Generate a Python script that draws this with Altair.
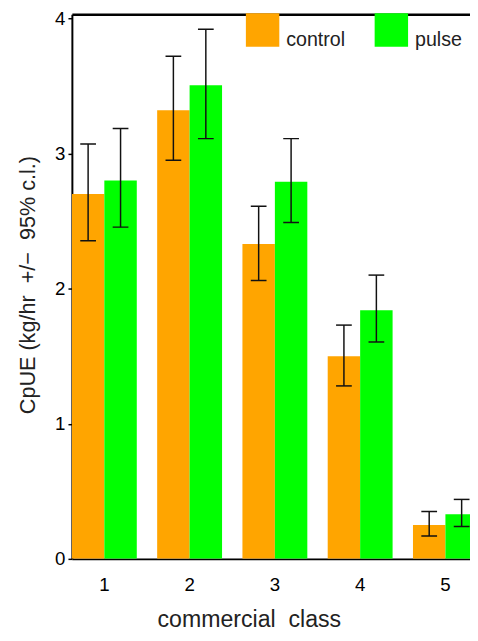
import altair as alt
import pandas as pd

classes = ["1", "2", "3", "4", "5"]
groups = ["control", "pulse"]
control_mean = [2.70, 3.32, 2.33, 1.50, 0.25]
control_lo = [2.355, 2.95, 2.06, 1.28, 0.17]
control_hi = [3.07, 3.72, 2.61, 1.73, 0.35]
pulse_mean = [2.80, 3.505, 2.79, 1.84, 0.33]
pulse_lo = [2.455, 3.11, 2.49, 1.605, 0.24]
pulse_hi = [3.185, 3.92, 3.11, 2.10, 0.44]
colors = ["#FFA500", "#00FF00"]

rows = []
for i, c in enumerate(classes):
    rows.append({"cls": c, "group": "control", "mean": control_mean[i], "lo": control_lo[i], "hi": control_hi[i]})
    rows.append({"cls": c, "group": "pulse", "mean": pulse_mean[i], "lo": pulse_lo[i], "hi": pulse_hi[i]})
df = pd.DataFrame(rows)

FONT = "Liberation Sans"
YTITLE = "CpUE (kg/hr\u00a0 +/\u2212\u00a0 95% c.l.)"
XTITLE = "commercial\u00a0\u00a0class"

xscale = alt.Scale(domain=classes, range=[0, 413], paddingInner=0.239, paddingOuter=0)
yscale = alt.Scale(domain=[0, 4.03], nice=False, zero=True)
xoff = alt.XOffset("group:N", scale=alt.Scale(domain=groups, paddingInner=0, paddingOuter=0))

base = alt.Chart(df)

bars = base.mark_bar(clip=True, opacity=1).encode(
    x=alt.X("cls:N", scale=xscale, sort=classes,
            axis=alt.Axis(orient="bottom", title=XTITLE, labelAngle=0, ticks=False,
                          domainColor="black", domainWidth=2,
                          labelFontSize=19, labelColor="black", labelPadding=17, labelFont=FONT,
                          titleFont=FONT, titleFontSize=23.5, titleFontWeight="normal", titleColor="#222",
                          titleX=180, titleY=69, titleAlign="center", titleBaseline="alphabetic")),
    xOffset=xoff,
    y=alt.Y("mean:Q", scale=yscale, title=YTITLE,
            axis=alt.Axis(values=[0, 1, 2, 3, 4], format="d", grid=False,
                          domainColor="black", domainWidth=2,
                          tickColor="black", tickSize=4, tickWidth=1.5,
                          labelFontSize=19, labelColor="black", labelPadding=3, labelFont=FONT,
                          titleFont=FONT, titleFontSize=22, titleFontWeight="normal", titleColor="#222",
                          titleX=-45, titleY=275, titleAngle=270, titleAlign="center",
                          titleBaseline="middle")),
    color=alt.Color("group:N", scale=alt.Scale(domain=groups, range=colors),
                    legend=alt.Legend(title=None, orient="none", legendX=177, legendY=-1,
                                      direction="horizontal", symbolType="square",
                                      symbolSize=1156, symbolStrokeWidth=0, symbolOpacity=1,
                                      labelFontSize=20, labelFont=FONT, labelColor="#222",
                                      labelBaseline="top", labelOffset=7, columnPadding=29,
                                      padding=0)),
)

rules = base.mark_rule(clip=True, color="#111", strokeWidth=1.5).encode(
    x=alt.X("cls:N", scale=xscale, sort=classes,
            axis=alt.Axis(orient="top", title=None, labels=False, ticks=False,
                          domainColor="black", domainWidth=2.5)),
    xOffset=xoff,
    y=alt.Y("lo:Q", scale=yscale, title=YTITLE),
    y2="hi:Q",
)

caps = base.transform_fold(["lo", "hi"], as_=["end", "v"]).mark_tick(
    clip=True, color="#111", size=16, thickness=1.5, orient="horizontal", opacity=1
).encode(
    x=alt.X("cls:N", scale=xscale, sort=classes, axis=None),
    xOffset=xoff,
    y=alt.Y("v:Q", scale=yscale, title=YTITLE),
)

chart = alt.layer(bars, rules, caps).resolve_axis(x="independent").properties(
    width=405, height=554,
    autosize=alt.AutoSizeParams(type="none"),
    padding={"left": 65, "top": 1, "right": 0, "bottom": 70},
).configure_view(stroke=None).configure(background="white")

chart.save("out.html", embed_options={"renderer": "svg", "actions": False})
